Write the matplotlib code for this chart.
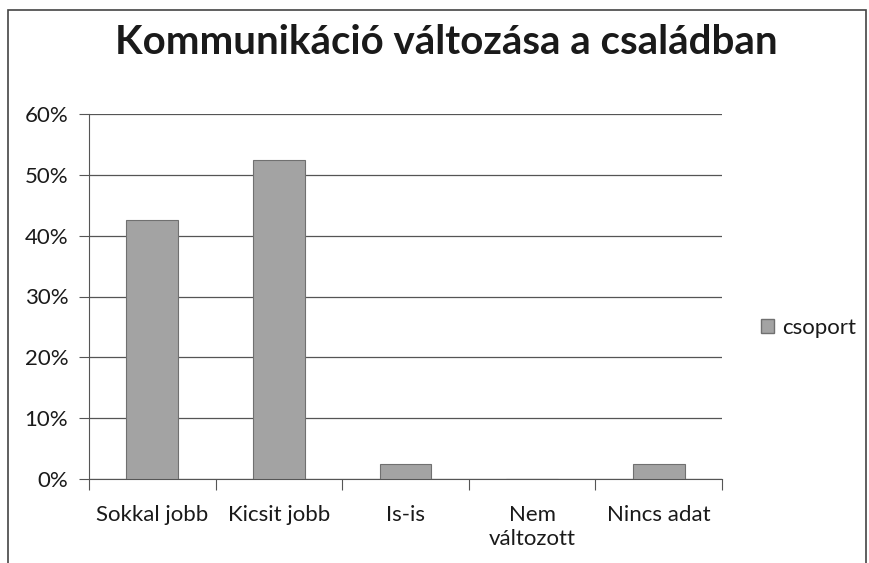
import matplotlib.pyplot as plt
from matplotlib.patches import Rectangle, Patch
from matplotlib.ticker import FuncFormatter

# data
categories = ['Sokkal jobb', 'Kicsit jobb', 'Is-is', 'Nem\nváltozott', 'Nincs adat']
values = [42.5, 52.5, 2.5, 0.0, 2.5]
series_name = 'csoport'
title = 'Kommunikáció változása a családban'

plt.rcParams['font.family'] = ['Lato', 'DejaVu Sans']
plt.rcParams['text.color'] = '#1a1a1a'

fig = plt.figure(figsize=(8.69, 5.63), dpi=100)
ax = fig.add_axes([89/869, 1 - 479/563, (722 - 89)/869, (479 - 114)/563])

x = range(len(categories))
ax.bar(x, values, width=0.41, color='#a3a3a3', edgecolor='#707070', linewidth=0.8,
       zorder=3, label=series_name)

ax.set_xlim(-0.5, len(categories) - 0.5)
ax.set_ylim(0, 60)
ax.set_yticks(range(0, 61, 10))
ax.yaxis.set_major_formatter(FuncFormatter(lambda v, p: '%d%%' % v))
ax.set_xticks([i - 0.5 for i in range(len(categories) + 1)], minor=False)
ax.set_xticklabels([])
ax.set_xticks(list(x), minor=True)
ax.set_xticklabels(categories, minor=True, fontsize=16, linespacing=1.25, color='#1a1a1a')
ax.tick_params(axis='x', which='minor', length=0, pad=19)
ax.tick_params(axis='x', which='major', length=8, color='#555555')
ax.tick_params(axis='y', length=7, color='#555555', labelsize=16, pad=8,
               labelcolor='#1a1a1a')

ax.grid(axis='y', color='#555555', linewidth=0.9, zorder=0)
for s in ['top', 'right']:
    ax.spines[s].set_visible(False)
for s in ['left', 'bottom']:
    ax.spines[s].set_color('#555555')

fig.text(446/869, 1 - 42/563, title, ha='center', va='center', fontsize=29, fontweight='bold')

fig.legend(handles=[Patch(facecolor='#a3a3a3', edgecolor='#707070', label=series_name)],
           loc='center left', bbox_to_anchor=(745/869, 1 - 328/563), frameon=False,
           fontsize=16, handlelength=0.6, handleheight=0.6, handletextpad=0.35,
           borderpad=0.2)

# outer frame of the chart
fig.patches.append(Rectangle((8/869, -0.01), (866 - 8)/869, 1 - 10/563 + 0.01,
                             transform=fig.transFigure, fill=False,
                             edgecolor='#444444', linewidth=1.2))

plt.savefig('out.png', dpi=100)
